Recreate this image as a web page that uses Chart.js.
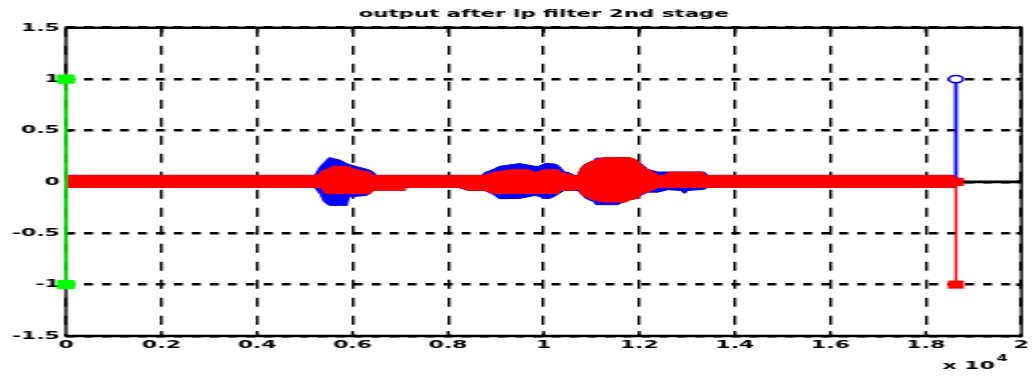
<!DOCTYPE html>
<html>
<head>
<meta charset="utf-8">
<script src="https://cdn.jsdelivr.net/npm/chart.js"></script>
<style>
  html, body { margin: 0; padding: 0; background: #fff; overflow: hidden; }
  /* the plot is laid out at half width and stretched horizontally */
  #wrap { width: 518px; height: 376px; transform: scaleX(1.99807); transform-origin: 0 0; }
</style>
</head>
<body>
<div id="wrap"><canvas id="c" width="518" height="376"></canvas></div>
<script>
// axis ticks
const xTicks = [0, 0.2, 0.4, 0.6, 0.8, 1, 1.2, 1.4, 1.6, 1.8, 2];
const xTickLabels = ['0', '0.2', '0.4', '0.6', '0.8', '1', '1.2', '1.4', '1.6', '1.8', '2'];
const yTicks = [-1.5, -1, -0.5, 0, 0.5, 1, 1.5];
const yTickLabels = ['-1.5', '-1', '-0.5', '0', '0.5', '1', '1.5'];

// second-stage output (red): envelope of the filtered signal, x in units of 10^4 samples
const redX = [0, 0.526, 0.533, 0.538, 0.544, 0.558, 0.589, 0.606, 0.638, 0.640, 0.707, 0.711, 0.822, 0.843,
  0.876, 0.895, 0.932, 0.968, 0.982, 1.003, 1.030, 1.034, 1.064, 1.072, 1.078, 1.089, 1.107, 1.126, 1.172,
  1.182, 1.195, 1.201, 1.214, 1.232, 1.239, 1.255, 1.263, 1.333, 1.337, 1.863];
const redUpper = [0.063, 0.063, 0.090, 0.112, 0.119, 0.151, 0.151, 0.122, 0.090, 0.063, 0.063, 0.063, 0.063, 0.063,
  0.063, 0.093, 0.119, 0.119, 0.093, 0.119, 0.119, 0.093, 0.063, 0.063, 0.129, 0.178, 0.210, 0.236, 0.236,
  0.236, 0.210, 0.178, 0.132, 0.093, 0.063, 0.063, 0.095, 0.095, 0.063, 0.063];
const redLower = [-0.054, -0.054, -0.051, -0.083, -0.115, -0.115, -0.115, -0.115, -0.115, -0.083, -0.083, -0.054, -0.054, -0.083,
  -0.083, -0.112, -0.112, -0.112, -0.112, -0.112, -0.112, -0.083, -0.083, -0.063, -0.115, -0.148, -0.180, -0.197, -0.197,
  -0.171, -0.164, -0.132, -0.100, -0.076, -0.054, -0.054, -0.054, -0.054, -0.054, -0.054];

// first-stage output (blue): envelope of the signal before the second filter
const blueX = [0, 0.521, 0.526, 0.533, 0.537, 0.540, 0.551, 0.575, 0.588, 0.592, 0.606, 0.630, 0.634, 0.644, 0.649,
  0.711, 0.822, 0.843, 0.872, 0.876, 0.895, 0.907, 0.950, 0.982, 0.989, 1.003, 1.013, 1.026, 1.032, 1.044, 1.051, 1.065, 1.072,
  1.078, 1.082, 1.089, 1.107, 1.109, 1.155, 1.169, 1.190, 1.203, 1.218,
  1.239, 1.260, 1.287, 1.295, 1.301, 1.336, 1.343, 1.863];
const blueUpper = [0.063, 0.063, 0.102, 0.151, 0.171, 0.183, 0.236, 0.210, 0.178, 0.171, 0.151, 0.122, 0.119, 0.090, 0.063,
  0.063, 0.063, 0.063, 0.063, 0.090, 0.122, 0.151, 0.178, 0.151, 0.151, 0.178, 0.178, 0.171, 0.151, 0.093, 0.093, 0.063, 0.063,
  0.129, 0.151, 0.178, 0.210, 0.230, 0.236, 0.236, 0.220, 0.178, 0.122,
  0.096, 0.096, 0.096, 0.096, 0.096, 0.096, 0.063, 0.063];
const blueLower = [-0.054, -0.054, -0.083, -0.122, -0.164, -0.190, -0.229, -0.229, -0.229, -0.148, -0.141, -0.132, -0.115, -0.083, -0.054,
  -0.054, -0.054, -0.083, -0.083, -0.083, -0.122, -0.164, -0.161, -0.132, -0.141, -0.161, -0.161, -0.132, -0.112, -0.083, -0.083, -0.083, -0.083,
  -0.115, -0.132, -0.164, -0.197, -0.222, -0.222, -0.190, -0.164, -0.132, -0.100,
  -0.100, -0.076, -0.083, -0.112, -0.083, -0.073, -0.054, -0.054];

// end-of-record stems and the start marker pair
const stemX = [1.863, 1.863];
const blueStemY = [0, 1];
const redStemY = [0, -1];
const greenX = [0, 0];
const greenY = [1, -1];

// zero reference line
const zeroX = [0, 2];
const zeroY = [0, 0];

const pts = (xs, ys) => xs.map((x, i) => ({ x: x, y: ys[i] }));

const RED = '#ff0000', BLUE = '#0000ff', GREEN = '#00ff00';
const FONT = '"DejaVu Sans", sans-serif';

Chart.defaults.font.family = FONT;
Chart.defaults.font.size = 11;
Chart.defaults.font.weight = 'bold';
Chart.defaults.color = '#000';

// box round the plot area with inward tick marks, drawn under the data
const framePlugin = {
  id: 'frame',
  beforeDatasetsDraw(chart) {
    const { ctx, chartArea: a, scales } = chart;
    ctx.save();
    ctx.setLineDash([]);
    ctx.strokeStyle = '#000';
    ctx.lineWidth = 2.6;
    ctx.beginPath();
    ctx.moveTo(a.left - 0.7, a.top); ctx.lineTo(a.right + 0.7, a.top);
    ctx.moveTo(a.left - 0.7, a.bottom); ctx.lineTo(a.right + 0.7, a.bottom);
    scales.y.ticks.forEach(t => {
      const py = scales.y.getPixelForValue(t.value);
      ctx.moveTo(a.left, py); ctx.lineTo(a.left + 2.6, py);
      ctx.moveTo(a.right, py); ctx.lineTo(a.right - 2.6, py);
    });
    ctx.stroke();
    ctx.lineWidth = 1.4;
    ctx.beginPath();
    ctx.moveTo(a.left, a.top); ctx.lineTo(a.left, a.bottom);
    ctx.moveTo(a.right, a.top); ctx.lineTo(a.right, a.bottom);
    scales.x.ticks.forEach(t => {
      const px = scales.x.getPixelForValue(t.value);
      ctx.moveTo(px, a.bottom); ctx.lineTo(px, a.bottom - 5);
      ctx.moveTo(px, a.top); ctx.lineTo(px, a.top + 5);
    });
    ctx.stroke();
    ctx.restore();
  }
};

// "x 10^4" multiplier under the right end of the x axis
const multiplierPlugin = {
  id: 'multiplier',
  afterDraw(chart) {
    const { ctx, chartArea: a } = chart;
    ctx.save();
    ctx.fillStyle = '#000';
    ctx.textBaseline = 'middle';
    ctx.textAlign = 'left';
    ctx.font = 'bold 11px ' + FONT;
    ctx.fillText('x 10', a.right - 39.5, 366);
    const w = ctx.measureText('x 10').width;
    ctx.font = 'bold 8px ' + FONT;
    ctx.fillText('4', a.right - 39.5 + w + 0.8, 359);
    ctx.restore();
  }
};

new Chart(document.getElementById('c'), {
  type: 'line',
  data: {
    datasets: [
      { data: pts(blueX, blueLower), borderColor: BLUE, borderWidth: 1, pointRadius: 0, fill: false, order: 8 },
      { data: pts(blueX, blueUpper), borderColor: BLUE, borderWidth: 1, pointRadius: 0, fill: '-1', backgroundColor: BLUE, order: 7 },
      { data: pts(stemX, blueStemY), borderColor: BLUE, borderWidth: 1.8, pointStyle: 'circle', pointRadius: 3.6,
        pointBorderWidth: 1.4, pointBorderColor: BLUE, pointBackgroundColor: '#fff', clip: false, order: 6 },
      { data: pts(zeroX, zeroY), borderColor: '#000', borderWidth: 2.6, pointRadius: 0, order: 5 },
      { data: pts(redX, redLower), borderColor: RED, borderWidth: 1, pointRadius: 0, fill: false, order: 4 },
      { data: pts(redX, redUpper), borderColor: RED, borderWidth: 1, pointRadius: 0, fill: '-1', backgroundColor: RED, order: 3 },
      { data: pts(stemX, redStemY), borderColor: RED, borderWidth: 1.4, pointStyle: 'rect', pointRadius: 5.7,
        pointBorderWidth: 0, pointBackgroundColor: RED, clip: false, order: 2 },
      { data: pts(greenX, greenY), borderColor: GREEN, borderWidth: 1.5, pointStyle: 'rect', pointRadius: 5.8,
        pointBorderWidth: 1, pointBorderColor: GREEN, pointBackgroundColor: GREEN, clip: false, order: 1 }
    ]
  },
  options: {
    responsive: false,
    animation: false,
    devicePixelRatio: 1,
    events: [],
    layout: { padding: { left: 0, right: 5, top: 0, bottom: 0 } },
    plugins: {
      legend: { display: false },
      tooltip: { enabled: false },
      title: {
        display: true,
        fullSize: false,
        text: 'output after lp filter 2nd stage',
        color: '#000',
        font: { size: 10.7, weight: 'bold', family: FONT },
        padding: { top: 7.7, bottom: 7.2 }
      }
    },
    scales: {
      x: {
        type: 'linear',
        min: 0, max: 2,
        afterBuildTicks: s => { s.ticks = xTicks.map(v => ({ value: v })); },
        afterFit: s => { s.height = 40; },
        ticks: { autoSkip: false, maxRotation: 0, padding: 3, callback: (v, i) => xTickLabels[i] },
        grid: { color: '#000', lineWidth: 1.4, drawTicks: false },
        border: { display: false, dash: [9, 9] }
      },
      y: {
        type: 'linear',
        min: -1.5, max: 1.5,
        afterBuildTicks: s => { s.ticks = yTicks.map(v => ({ value: v })); },
        afterFit: s => { s.width = 33; },
        ticks: { autoSkip: false, padding: 3, callback: (v, i) => yTickLabels[i] },
        grid: { color: '#000', lineWidth: 2.5, drawTicks: false },
        border: { display: false, dash: [4.5, 4.5] }
      }
    }
  },
  plugins: [framePlugin, multiplierPlugin]
});
</script>
</body>
</html>
